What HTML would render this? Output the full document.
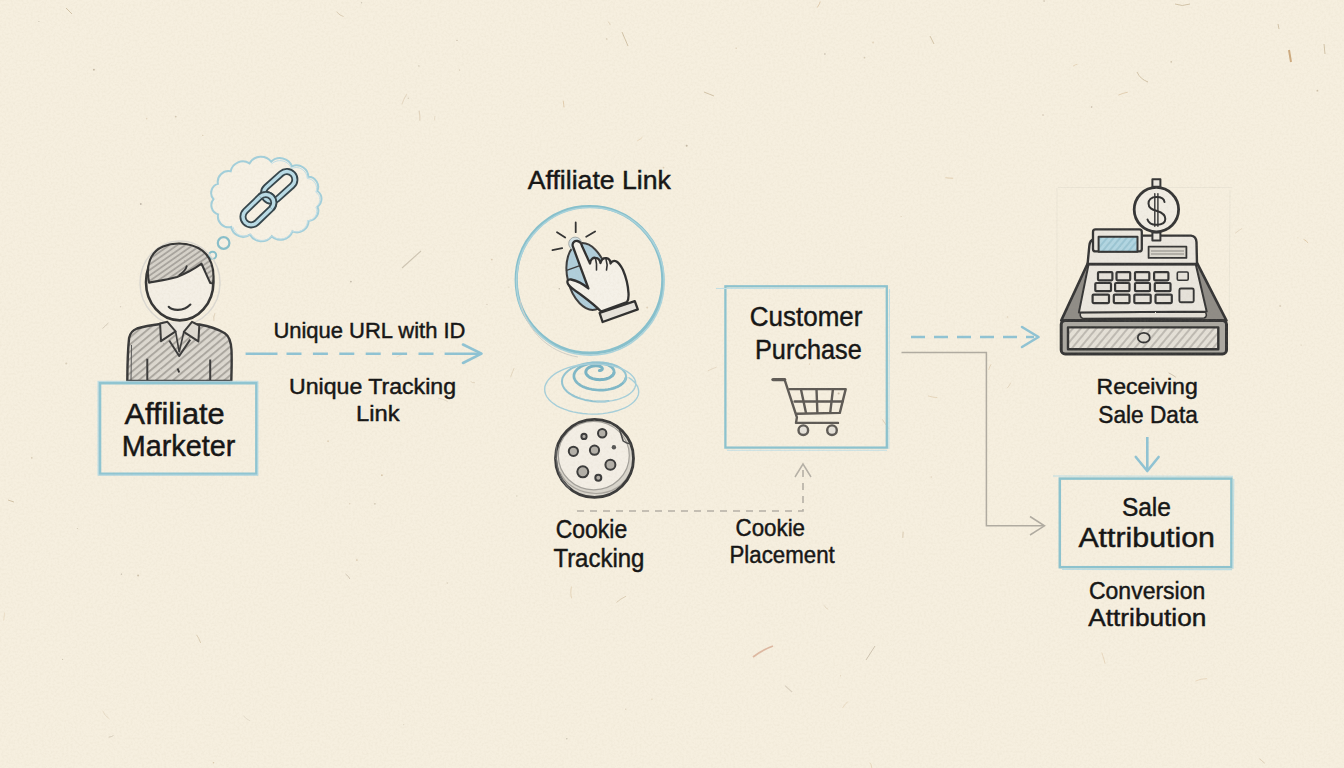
<!DOCTYPE html>
<html><head><meta charset="utf-8">
<style>
html,body{margin:0;padding:0;background:#f6efdf;}
#c{position:relative;width:1344px;height:768px;overflow:hidden;background:#f6efdf;}
svg{position:absolute;left:0;top:0;}
text{font-family:"Liberation Sans",sans-serif;fill:#141414;stroke:#141414;stroke-width:0.45px;}
</style></head>
<body><div id="c">
<svg width="1344" height="768" viewBox="0 0 1344 768">
<defs>
<pattern id="hatch" width="5.5" height="5.5" patternUnits="userSpaceOnUse" patternTransform="rotate(50)">
<rect width="5.5" height="5.5" fill="#dcd8d0"/>
<line x1="1" y1="0" x2="1" y2="5.5" stroke="#a9a59e" stroke-width="1.9"/>
</pattern>
<pattern id="hatchH" width="4.5" height="4.5" patternUnits="userSpaceOnUse" patternTransform="rotate(55)">
<rect width="4.5" height="4.5" fill="#d6d2ca"/>
<line x1="1" y1="0" x2="1" y2="4.5" stroke="#a4a09a" stroke-width="1.7"/>
</pattern>
<pattern id="hatch2" width="6" height="6" patternUnits="userSpaceOnUse" patternTransform="rotate(40)">
<rect width="6" height="6" fill="#e4e0d7"/>
<line x1="1" y1="0" x2="1" y2="6" stroke="#aaa69f" stroke-width="1.3"/>
</pattern>
<pattern id="hatchB" width="5" height="5" patternUnits="userSpaceOnUse" patternTransform="rotate(40)">
<rect width="5" height="5" fill="#b2d6e2"/>
<line x1="1" y1="0" x2="1" y2="5" stroke="#8fbccc" stroke-width="1.3"/>
</pattern>
<filter id="paper" x="0" y="0" width="100%" height="100%">
<feTurbulence type="fractalNoise" baseFrequency="0.45" numOctaves="3" seed="5" result="n"/>
<feColorMatrix in="n" type="matrix" values="0 0 0 0 0.45  0 0 0 0 0.38  0 0 0 0 0.25  0.16 0 0 0 -0.06"/>
</filter>
<filter id="wob" x="-5%" y="-5%" width="110%" height="110%">
<feTurbulence type="fractalNoise" baseFrequency="0.35" numOctaves="2" seed="11" result="t"/>
<feDisplacementMap in="SourceGraphic" in2="t" scale="1.3" xChannelSelector="R" yChannelSelector="G"/>
</filter>
</defs>

<!-- background specks -->
<g stroke="#c9b89a" stroke-width="1" fill="none" opacity="0.8">
<path d="M402,268 L421,251" stroke="#c4baa8" stroke-width="1.1"/><path d="M622,32 L628,46"/><path d="M1289,50 L1291,62" stroke="#c49a68" stroke-width="2"/>
<path d="M1175,4 Q1182,7 1190,4"/><path d="M1137,72 Q1140,79 1148,82"/><path d="M66,8 L72,14"/><path d="M8,500 L14,502"/>
<path d="M1278,24 L1279,29"/><path d="M753,657 Q762,650 773,646" stroke="#d8ab92" stroke-width="1.8"/><path d="M866,660 L875,646" stroke="#c4b8a5"/><path d="M1324,44 L1325,54"/><path d="M704,92 L714,96"/><path d="M930,36 L934,44"/>
</g>
<g>
<path d="M435.2,115.9 Q434.4,116.4 434.7,120.4" stroke="#cdb89a" stroke-width="0.7" fill="none" opacity="0.48"/>
<circle cx="93.9" cy="69.7" r="0.9" fill="#a89a84" opacity="0.68"/>
<circle cx="847.6" cy="447.7" r="0.8" fill="#a89a84" opacity="0.69"/>
<circle cx="62.6" cy="659.3" r="0.6" fill="#a89a84" opacity="0.55"/>
<circle cx="753.0" cy="523.8" r="0.8" fill="#b9a98f" opacity="0.48"/>
<circle cx="736.2" cy="48.2" r="0.6" fill="#c4ad8a" opacity="0.62"/>
<circle cx="625.8" cy="709.2" r="0.6" fill="#b9a98f" opacity="0.59"/>
<circle cx="328.1" cy="441.2" r="0.9" fill="#c4ad8a" opacity="0.45"/>
<circle cx="1317.4" cy="90.7" r="0.9" fill="#b9a98f" opacity="0.68"/>
<circle cx="566.8" cy="738.8" r="0.8" fill="#9c9282" opacity="0.47"/>
<path d="M470.6,381.4 Q471.9,382.9 475.0,382.8" stroke="#c7b394" stroke-width="0.7" fill="none" opacity="0.56"/>
<path d="M869.7,762.7 Q871.5,763.7 871.9,768.6" stroke="#d2b48c" stroke-width="0.8" fill="none" opacity="0.53"/>
<circle cx="663.5" cy="167.6" r="0.9" fill="#c4ad8a" opacity="0.49"/>
<circle cx="1171.2" cy="61.9" r="0.8" fill="#b9a98f" opacity="0.64"/>
<circle cx="1161.2" cy="213.8" r="0.7" fill="#c4ad8a" opacity="0.69"/>
<circle cx="202.8" cy="135.3" r="0.6" fill="#c4ad8a" opacity="0.64"/>
<circle cx="245.1" cy="216.5" r="0.8" fill="#9c9282" opacity="0.68"/>
<path d="M928.0,395.9 Q934.3,397.8 937.3,397.5" stroke="#d2b48c" stroke-width="0.9" fill="none" opacity="0.47"/>
<circle cx="647.2" cy="307.5" r="1.0" fill="#c4ad8a" opacity="0.41"/>
<circle cx="457.0" cy="40.4" r="0.6" fill="#a89a84" opacity="0.68"/>
<circle cx="824.9" cy="54.0" r="0.7" fill="#9c9282" opacity="0.68"/>
<circle cx="809.5" cy="364.1" r="0.7" fill="#c4ad8a" opacity="0.52"/>
<path d="M419.1,110.7 Q420.2,115.7 419.8,120.6" stroke="#cdb89a" stroke-width="1.1" fill="none" opacity="0.51"/>
<circle cx="197.0" cy="417.2" r="0.8" fill="#a89a84" opacity="0.59"/>
<circle cx="350.9" cy="281.6" r="0.9" fill="#9c9282" opacity="0.57"/>
<path d="M824.2,605.5 Q825.8,608.6 828.2,609.3" stroke="#cdb89a" stroke-width="0.9" fill="none" opacity="0.46"/>
<circle cx="38.9" cy="21.5" r="0.6" fill="#9c9282" opacity="0.51"/>
<path d="M1259.4,758.8 Q1260.9,759.8 1264.7,763.2" stroke="#cdb89a" stroke-width="0.9" fill="none" opacity="0.65"/>
<path d="M820.2,1.5 Q820.1,3.0 817.3,7.5" stroke="#d2b48c" stroke-width="1.0" fill="none" opacity="0.58"/>
<path d="M642.5,137.1 Q641.7,138.6 637.1,141.0" stroke="#d2b48c" stroke-width="1.0" fill="none" opacity="0.38"/>
<circle cx="213.5" cy="762.7" r="0.8" fill="#c4ad8a" opacity="0.63"/>
<path d="M196.5,634.8 Q198.7,637.4 200.7,643.0" stroke="#c7b394" stroke-width="1.0" fill="none" opacity="0.57"/>
<circle cx="138.1" cy="575.6" r="1.0" fill="#b9a98f" opacity="0.64"/>
<circle cx="283.6" cy="193.4" r="0.6" fill="#9c9282" opacity="0.44"/>
<path d="M563.2,100.7 Q563.9,105.7 564.0,107.4" stroke="#d2b48c" stroke-width="1.0" fill="none" opacity="0.61"/>
<circle cx="175.7" cy="116.6" r="0.9" fill="#b9a98f" opacity="0.56"/>
<circle cx="1043.0" cy="115.0" r="0.8" fill="#a89a84" opacity="0.54"/>
<path d="M438.1,398.1 Q443.2,398.8 447.8,401.5" stroke="#b8ab98" stroke-width="0.7" fill="none" opacity="0.38"/>
<path d="M607.7,21.4 Q610.8,23.7 610.1,25.2" stroke="#cdb89a" stroke-width="1.0" fill="none" opacity="0.49"/>
<path d="M716.7,367.1 Q714.1,368.0 707.9,370.8" stroke="#cdb89a" stroke-width="1.0" fill="none" opacity="0.39"/>
<circle cx="163.5" cy="339.5" r="0.6" fill="#a89a84" opacity="0.42"/>
<path d="M406.9,94.0 Q403.9,98.2 401.9,104.3" stroke="#cdb89a" stroke-width="1.1" fill="none" opacity="0.42"/>
<circle cx="1280.2" cy="305.9" r="1.0" fill="#b9a98f" opacity="0.41"/>
<circle cx="580.0" cy="396.0" r="0.6" fill="#9c9282" opacity="0.38"/>
<circle cx="491.8" cy="259.6" r="0.9" fill="#c4ad8a" opacity="0.47"/>
<circle cx="838.6" cy="393.4" r="1.0" fill="#b9a98f" opacity="0.69"/>
<circle cx="140.8" cy="204.0" r="0.9" fill="#9c9282" opacity="0.61"/>
<path d="M1101.8,652.5 Q1103.6,658.1 1105.1,663.6" stroke="#d2b48c" stroke-width="1.0" fill="none" opacity="0.38"/>
<circle cx="77.3" cy="528.5" r="0.5" fill="#a89a84" opacity="0.57"/>
<path d="M1077.4,64.3 Q1075.1,64.6 1073.3,66.2" stroke="#d2b48c" stroke-width="1.1" fill="none" opacity="0.43"/>
<circle cx="173.7" cy="404.7" r="0.6" fill="#b9a98f" opacity="0.44"/>
<path d="M243.5,716.0 Q246.5,719.1 250.0,720.9" stroke="#b8ab98" stroke-width="0.8" fill="none" opacity="0.36"/>
<path d="M336.6,11.8 Q340.0,15.9 343.6,16.5" stroke="#c7b394" stroke-width="1.0" fill="none" opacity="0.55"/>
<path d="M882.3,419.3 Q884.5,423.0 889.0,428.9" stroke="#cdb89a" stroke-width="1.0" fill="none" opacity="0.56"/>
<circle cx="854.8" cy="310.8" r="0.5" fill="#b9a98f" opacity="0.35"/>
<circle cx="840.6" cy="675.7" r="0.5" fill="#c4ad8a" opacity="0.65"/>
<circle cx="901.2" cy="216.5" r="0.6" fill="#c4ad8a" opacity="0.41"/>
<circle cx="361.6" cy="2.8" r="0.7" fill="#9c9282" opacity="0.44"/>
<circle cx="1297.9" cy="237.7" r="0.5" fill="#c4ad8a" opacity="0.38"/>
<circle cx="374.9" cy="503.8" r="0.9" fill="#a89a84" opacity="0.44"/>
<circle cx="120.6" cy="306.8" r="0.5" fill="#9c9282" opacity="0.57"/>
<path d="M113.5,735.5 Q112.2,736.7 108.6,737.2" stroke="#b8ab98" stroke-width="1.0" fill="none" opacity="0.50"/>
<circle cx="381.9" cy="475.2" r="0.9" fill="#c4ad8a" opacity="0.61"/>
<circle cx="1091.6" cy="107.0" r="0.8" fill="#a89a84" opacity="0.64"/>
<path d="M785.0,685.7 Q786.7,687.4 792.1,692.0" stroke="#b8ab98" stroke-width="1.1" fill="none" opacity="0.46"/>
<circle cx="606.7" cy="39.0" r="0.8" fill="#b9a98f" opacity="0.52"/>
<path d="M4.5,612.6 Q4.6,614.9 3.6,620.6" stroke="#d2b48c" stroke-width="0.8" fill="none" opacity="0.37"/>
<circle cx="356.9" cy="560.1" r="0.9" fill="#c4ad8a" opacity="0.52"/>
<path d="M514.2,367.9 Q512.9,370.9 510.5,377.3" stroke="#cdb89a" stroke-width="0.8" fill="none" opacity="0.55"/>
<circle cx="931.2" cy="477.0" r="0.7" fill="#c4ad8a" opacity="0.44"/>
<path d="M903.2,531.6 Q902.9,534.6 902.8,537.9" stroke="#c7b394" stroke-width="1.1" fill="none" opacity="0.51"/>
<circle cx="418.9" cy="65.9" r="0.6" fill="#a89a84" opacity="0.64"/>
<circle cx="1301.1" cy="345.2" r="0.6" fill="#b9a98f" opacity="0.38"/>
<circle cx="121.4" cy="574.1" r="0.7" fill="#9c9282" opacity="0.66"/>
<path d="M945.3,177.7 Q947.2,178.0 953.2,178.3" stroke="#d2b48c" stroke-width="0.9" fill="none" opacity="0.57"/>
<circle cx="559.3" cy="288.8" r="0.7" fill="#9c9282" opacity="0.61"/>
<path d="M1127.8,92.2 Q1122.3,93.2 1118.5,95.1" stroke="#d2b48c" stroke-width="0.9" fill="none" opacity="0.61"/>
<path d="M102.7,710.7 Q104.3,715.5 109.6,719.1" stroke="#cdb89a" stroke-width="0.8" fill="none" opacity="0.43"/>
<circle cx="686.7" cy="145.8" r="1.0" fill="#a89a84" opacity="0.63"/>
<path d="M847.9,701.5 Q843.5,705.7 842.6,708.0" stroke="#d2b48c" stroke-width="0.9" fill="none" opacity="0.39"/>
<path d="M1168.6,372.9 Q1171.8,374.2 1175.8,377.2" stroke="#b8ab98" stroke-width="1.0" fill="none" opacity="0.64"/>
<circle cx="349.7" cy="503.8" r="0.8" fill="#c4ad8a" opacity="0.39"/>
<circle cx="864.5" cy="57.7" r="0.9" fill="#b9a98f" opacity="0.51"/>
<circle cx="447.3" cy="583.1" r="0.8" fill="#b9a98f" opacity="0.38"/>
<circle cx="459.6" cy="70.0" r="0.6" fill="#b9a98f" opacity="0.66"/>
<circle cx="1007.5" cy="317.0" r="0.8" fill="#c4ad8a" opacity="0.44"/>
<path d="M1010.8,382.6 Q1009.0,386.6 1007.0,388.3" stroke="#cdb89a" stroke-width="0.7" fill="none" opacity="0.62"/>
<circle cx="516.8" cy="496.0" r="0.7" fill="#a89a84" opacity="0.39"/>
<path d="M571.5,586.5 Q569.9,594.1 571.8,598.3" stroke="#d2b48c" stroke-width="1.1" fill="none" opacity="0.42"/>
<circle cx="146.6" cy="118.6" r="0.8" fill="#c4ad8a" opacity="0.38"/>
<circle cx="1044.1" cy="1.0" r="0.8" fill="#a89a84" opacity="0.58"/>
<circle cx="408.3" cy="98.3" r="0.8" fill="#a89a84" opacity="0.38"/>
<circle cx="403.7" cy="724.6" r="0.6" fill="#a89a84" opacity="0.35"/>
<path d="M405.2,353.8 Q400.9,354.4 396.7,357.1" stroke="#cdb89a" stroke-width="0.7" fill="none" opacity="0.47"/>
<circle cx="873.1" cy="42.5" r="0.9" fill="#c4ad8a" opacity="0.38"/>
<circle cx="306.2" cy="325.9" r="0.7" fill="#9c9282" opacity="0.60"/>
<circle cx="487.0" cy="304.4" r="0.6" fill="#a89a84" opacity="0.42"/>
<path d="M1303.5,239.4 Q1306.8,240.5 1308.0,243.1" stroke="#d2b48c" stroke-width="0.9" fill="none" opacity="0.62"/>
<circle cx="651.9" cy="699.2" r="0.8" fill="#c4ad8a" opacity="0.37"/>
<circle cx="31.8" cy="457.8" r="0.9" fill="#b9a98f" opacity="0.49"/>
<path d="M1207.1,678.6 Q1200.6,678.6 1195.4,681.1" stroke="#d2b48c" stroke-width="0.7" fill="none" opacity="0.55"/>
<circle cx="508.9" cy="287.1" r="0.6" fill="#a89a84" opacity="0.38"/>
<path d="M108.5,322.7 Q105.0,326.7 102.4,328.5" stroke="#b8ab98" stroke-width="1.0" fill="none" opacity="0.48"/>
<circle cx="66.2" cy="363.6" r="1.0" fill="#b9a98f" opacity="0.46"/>
<path d="M991.0,364.4 Q989.4,366.7 988.7,370.0" stroke="#d2b48c" stroke-width="0.7" fill="none" opacity="0.63"/>
<path d="M345.4,573.9 Q349.5,576.9 349.8,579.0" stroke="#b8ab98" stroke-width="1.0" fill="none" opacity="0.56"/>
<path d="M1242.2,228.4 Q1240.4,229.2 1235.0,233.4" stroke="#cdb89a" stroke-width="0.7" fill="none" opacity="0.56"/>
<path d="M626.0,596.2 Q619.8,599.3 616.5,602.5" stroke="#c7b394" stroke-width="1.0" fill="none" opacity="0.57"/>
<path d="M1105.8,593.5 Q1107.0,597.4 1109.3,599.1" stroke="#c7b394" stroke-width="0.9" fill="none" opacity="0.47"/>
<path d="M215.0,313.2 Q213.1,316.8 213.9,320.9" stroke="#c7b394" stroke-width="1.1" fill="none" opacity="0.43"/>
</g>

<!-- ========== Affiliate marketer ========== -->
<!-- thought cloud -->
<g fill="#f7f1e4" stroke="#a2cfdb" stroke-width="2">
<path d="M271.2,161.7 A12.8,12.8 0 0 1 292.0,166.4 A11.6,11.6 0 0 1 308.3,176.8 A10.1,10.1 0 0 1 317.3,191.0 A9.4,9.4 0 0 1 317.4,206.6 A10.1,10.1 0 0 1 308.6,220.9 A11.6,11.6 0 0 1 292.5,231.4 A12.8,12.8 0 0 1 271.7,236.3 A13.1,13.1 0 0 1 250.0,234.7 A12.3,12.3 0 0 1 231.1,227.0 A10.8,10.8 0 0 1 218.1,214.4 A9.6,9.6 0 0 1 213.5,199.2 A9.5,9.5 0 0 1 217.9,183.9 A10.8,10.8 0 0 1 230.7,171.3 A12.3,12.3 0 0 1 249.5,163.4 A13.1,13.1 0 0 1 271.2,161.7 Z"/>
<circle cx="223.6" cy="243" r="5.8" stroke="#88bfca" stroke-width="2.2"/>
<circle cx="212.6" cy="255.3" r="3.6" stroke="#88bfca" stroke-width="2"/>
</g>
<path d="M271.5,164.0 A12.3,12.3 0 0 1 291.5,168.5 A11.1,11.1 0 0 1 307.2,178.5 A9.7,9.7 0 0 1 315.8,192.1 A9.0,9.0 0 0 1 315.9,207.1 A9.7,9.7 0 0 1 307.5,220.8 A11.1,11.1 0 0 1 292.0,230.9 A12.3,12.3 0 0 1 272.0,235.6 A12.6,12.6 0 0 1 251.1,234.1 A11.8,11.8 0 0 1 232.9,226.7" fill="none" stroke="#c4e0e8" stroke-width="1"/>
<!-- chain -->
<g fill="none">
<g transform="translate(258.4,209.7) rotate(-44)">
<rect x="-18.3" y="-8.1" width="36.6" height="16.2" rx="8.1" stroke="#35454b" stroke-width="7"/>
<rect x="-18.3" y="-8.1" width="36.6" height="16.2" rx="8.1" stroke="#b9dce7" stroke-width="3.4"/>
</g>
<g transform="translate(279.2,186.4) rotate(-42)">
<rect x="-18.3" y="-8.1" width="36.6" height="16.2" rx="8.1" stroke="#35454b" stroke-width="7"/>
<rect x="-18.3" y="-8.1" width="36.6" height="16.2" rx="8.1" stroke="#b9dce7" stroke-width="3.4"/>
</g>
<!-- re-draw part of lower link over upper link -->
<g transform="translate(258.4,209.7) rotate(-44)">
<path d="M10.2,-8.1 A8.1,8.1 0 0 1 18.3,0 A8.1,8.1 0 0 1 10.2,8.1" stroke="#35454b" stroke-width="7"/>
<path d="M10.2,-8.1 A8.1,8.1 0 0 1 18.3,0 A8.1,8.1 0 0 1 10.2,8.1" stroke="#b9dce7" stroke-width="3.4"/>
</g>
</g>

<!-- person -->
<g filter="url(#wob)">
<ellipse cx="180" cy="283" rx="40" ry="42" fill="none" stroke="#dcd9d2" stroke-width="1.5"/>
<!-- body -->
<path d="M127.3,381 C127.4,365 127.5,352 129.1,338 C130,333 133,330 137,328.5 C145,326 152,325 160.5,324 L199.5,324.5 C208,326 216,328 224.8,333.2 C229,336 231,341 231.5,350 C232,362 231.5,372 231.3,381 Z" fill="url(#hatch)" stroke="#383838" stroke-width="2.4" stroke-linejoin="round"/>
<path d="M131.5,345 L131,380" stroke="#555" stroke-width="1" fill="none"/>
<path d="M147.3,358.7 L147.3,380 M210.2,359.6 L210.2,380" stroke="#3a3a3a" stroke-width="2" fill="none"/>
<!-- neck + shirt V -->
<path d="M167,322 L192,322 L183.8,332 L179.2,338 L175.6,331.4 Z" fill="#ece8e0" stroke="none"/>
<path d="M169.2,340.5 L179.2,356 L190.2,339.6" fill="none" stroke="#3a3a3a" stroke-width="2" stroke-linejoin="round"/>
<path d="M175.6,331.4 L179.2,352 L183.8,332" fill="none" stroke="#3a3a3a" stroke-width="1.6"/>
<!-- collar flaps -->
<path d="M160.1,323.5 L167.4,321.8 L175.6,331.4 L161,341.2 Z" fill="#dedad2" stroke="#383838" stroke-width="2" stroke-linejoin="round"/>
<path d="M199.3,325.5 L192,321.8 L183.8,331.9 L198.4,341.4 Z" fill="#dedad2" stroke="#383838" stroke-width="2" stroke-linejoin="round"/>
<path d="M177.6,368.5 L179.2,372.5" stroke="#333" stroke-width="2" fill="none"/>
<!-- head -->
<ellipse cx="179.7" cy="282.2" rx="33.7" ry="38.2" fill="#f4efe5" stroke="#363636" stroke-width="2.6"/>
<path d="M149.1,282.6 C145.5,266 150,252 163,246.5 C176,241 196,243 206,254 C212,261 214.5,272 213,283.5 L210.3,283 C207,276 204,269 201.5,263.7 C195,268.5 186,273.5 177,277 C168,279.5 158,281 149.1,282.6 Z" fill="url(#hatchH)" stroke="#363636" stroke-width="2.1" stroke-linejoin="round"/>
<path d="M179.4,275 C183,272.5 186,269.5 186.7,266.1" fill="none" stroke="#363636" stroke-width="1.9" stroke-linecap="round"/>
<path d="M168.7,306.8 C172,310.5 183,312 190.4,304.5" fill="none" stroke="#363636" stroke-width="2.1" stroke-linecap="round"/>
</g>

<!-- Affiliate Marketer box -->
<rect x="99.8" y="383" width="156.8" height="91" fill="none" stroke="#8fc5d2" stroke-width="3"/>
<rect x="98" y="381.3" width="159.8" height="93.8" fill="none" stroke="#bcdde5" stroke-width="1"/>
<text x="124.4" y="424" font-size="29" textLength="100.3" lengthAdjust="spacingAndGlyphs">Affiliate</text>
<text x="121.8" y="455.7" font-size="29" textLength="113.5" lengthAdjust="spacingAndGlyphs">Marketer</text>

<!-- arrow 1 -->
<path d="M245.6,353.7 L277.5,353.7" stroke="#8fc3d4" stroke-width="2.6" fill="none"/>
<path d="M286.5,353.7 L444,353.7" stroke="#8fc3d4" stroke-width="2.6" stroke-dasharray="15 11.4" fill="none"/>
<path d="M444.6,353.7 L480,353.7" stroke="#8fc3d4" stroke-width="2.6" fill="none"/>
<path d="M463,344.5 L481.5,353.7 L463,363" stroke="#8fc3d4" stroke-width="2.6" fill="none" stroke-linecap="round" stroke-linejoin="round"/>
<text x="273.4" y="337.6" font-size="22" textLength="192.1" lengthAdjust="spacingAndGlyphs">Unique URL with ID</text>
<text x="289" y="393.5" font-size="22" textLength="167" lengthAdjust="spacingAndGlyphs">Unique Tracking</text>
<text x="356" y="421.4" font-size="22" textLength="43.5" lengthAdjust="spacingAndGlyphs">Link</text>

<!-- ========== Affiliate Link ========== -->
<text x="527.8" y="189.2" font-size="25.5" textLength="143" lengthAdjust="spacingAndGlyphs">Affiliate Link</text>
<circle cx="589.5" cy="279.8" r="73.3" fill="none" stroke="#86c0cd" stroke-width="3.2"/>
<circle cx="590.3" cy="281.3" r="73.8" fill="none" stroke="#a9d3dc" stroke-width="1.6"/>
<path d="M520,300 C526,330 548,352 578,357" fill="none" stroke="#d2d0c8" stroke-width="1"/>
<!-- mouse -->
<g transform="translate(587.5,276.5) rotate(-14)">
<ellipse cx="0" cy="0" rx="20" ry="34" fill="#b0cedb" stroke="#3c3c3c" stroke-width="2"/>
<path d="M-19.5,-11 L-4,-12.5" stroke="#3c3c3c" stroke-width="1.4" fill="none"/>
</g>
<!-- hand -->
<circle cx="575.2" cy="243.6" r="6.5" fill="#d3e2e6" stroke="#a4aaa8" stroke-width="1"/>
<path d="M572.7,246 C572,242 575,240.5 577.5,241 C580,241.5 581.5,243.5 582,246 L590,263.5 C590.5,259 593,257.5 595.5,257.8 C598,258 600,260 600.5,263 C601.5,259 604,257.8 606.5,258.2 C609,258.8 610.5,261 610.5,263.5 C612,261 614.5,260.5 616.5,261.5 C619,263 621,266 623,270 C626,277 628,285 628.5,293 C628.8,298 628.5,300 627,302 L601,311.5 C596,306 588,300 580,294 C574,290 569.5,287 568,284 C566.5,281 568,279 571,279.5 C576,280.5 582,283 588.4,288.5 Z" fill="#f5f1e8" stroke="#2f2f2f" stroke-width="2.3" stroke-linejoin="round"/>
<path d="M595.5,258.5 C596.5,262 597,265 596.5,270 M606,259 C607,262 607.5,266 606.5,270" fill="none" stroke="#2f2f2f" stroke-width="1.6" stroke-linecap="round"/>
<path d="M599.6,313 L634.8,301.1 L637.8,309.3 L602.6,322 Z" fill="#e7e3db" stroke="#2f2f2f" stroke-width="2.3" stroke-linejoin="round"/>
<path d="M575.7,222.5 L575.7,232.2 M557,232.2 L565.2,237.5 M586.2,236.7 L595.1,231.5 M552.5,250.2 L562.2,248.2" stroke="#333" stroke-width="1.8" fill="none" stroke-linecap="round"/>

<!-- spiral -->
<g fill="none" stroke-linecap="round" stroke-linejoin="round">
<path d="M599.4,370.6 L599.8,370.6 L600.2,370.5 L600.6,370.4 L600.9,370.3 L601.3,370.1 L601.6,369.9 L601.8,369.7 L602.1,369.5 L602.2,369.2 L602.3,368.9 L602.3,368.6 L602.3,368.3 L602.1,368.0 L601.9,367.7 L601.6,367.4 L601.3,367.1 L600.8,366.8 L600.3,366.5 L599.7,366.3 L599.0,366.1 L598.2,365.9 L597.4,365.8 L596.6,365.7 L595.7,365.7 L594.8,365.8 L593.9,365.9 L592.9,366.0 L592.0,366.2 L591.1,366.5 L590.2,366.9 L589.4,367.3 L588.6,367.7 L587.9,368.2 L587.3,368.8 L586.8,369.4 L586.4,370.0 L586.1,370.7 L585.9,371.4 L585.8,372.1 L585.9,372.9 L586.1,373.6 L586.5,374.3 L587.0,375.0 L587.6,375.7 L588.4,376.4 L589.2,377.0 L590.2,377.6 L591.4,378.1 L592.6,378.6 L593.9,378.9 L595.3,379.2 L596.7,379.5 L598.2,379.6 L599.8,379.7 L601.3,379.6 L602.8,379.5 L604.3,379.3 L605.8,379.0 L607.2,378.5 L608.5,378.1 L609.7,377.5 L610.8,376.8 L611.8,376.1 L612.6,375.4 L613.2,374.5 L613.7,373.7 L614.0,372.8" stroke="#78b3c4" stroke-width="3.0"/>
<path d="M612.6,375.3 L613.2,374.5 L613.7,373.6 L614.0,372.8 L614.1,371.8 L614.0,370.9 L613.7,370.0 L613.3,369.1 L612.6,368.2 L611.7,367.3 L610.7,366.5 L609.4,365.8 L608.1,365.1 L606.5,364.5 L604.8,364.0 L603.0,363.6 L601.1,363.3 L599.1,363.1 L597.0,363.0 L594.9,363.0 L592.8,363.2 L590.6,363.4 L588.5,363.8 L586.5,364.4 L584.5,365.0 L582.7,365.8 L580.9,366.6 L579.4,367.6 L577.9,368.6 L576.7,369.8 L575.7,371.0 L574.9,372.3 L574.3,373.6 L574.0,374.9 L573.9,376.3 L574.1,377.7 L574.6,379.1 L575.3,380.4 L576.2,381.8 L577.4,383.0 L578.9,384.2 L580.5,385.4 L582.4,386.4 L584.5,387.3 L586.8,388.1 L589.2,388.8 L591.7,389.3 L594.3,389.7 L597.0,390.0 L599.7,390.1 L602.5,390.1 L605.2,389.9 L607.9,389.5 L610.5,389.0 L613.0,388.4 L615.3,387.6 L617.5,386.7 L619.5,385.6 L621.2,384.5 L622.8,383.2 L624.0,381.9 L625.0,380.5 L625.6,379.0 L626.0,377.6" stroke="#7fb8c8" stroke-width="2.7"/>
<path d="M624.0,381.9 L625.0,380.5 L625.7,379.0 L626.0,377.5 L626.0,375.9 L625.7,374.4 L625.1,372.9 L624.1,371.4 L622.8,370.0 L621.1,368.6 L619.2,367.3 L617.0,366.2 L614.5,365.2 L611.8,364.3 L608.9,363.6 L605.8,363.0 L602.5,362.6 L599.2,362.4 L595.8,362.4 L592.4,362.6 L588.9,362.9 L585.5,363.5 L582.3,364.2 L579.1,365.2 L576.1,366.3 L573.3,367.5 L570.8,368.9 L568.5,370.5 L566.5,372.2 L564.9,374.0 L563.6,375.9 L562.6,377.8 L562.1,379.8 L562.0,381.9 L562.2,383.9 L562.9,385.9 L563.9,387.9 L565.4,389.8 L567.2,391.7 L569.4,393.4 L572.0,395.0 L574.8,396.5 L578.0,397.8 L581.4,398.9 L585.0,399.9 L588.8,400.6 L592.7,401.2 L596.8,401.5 L600.7,401.6 L604.6,401.5 L608.5,401.1" stroke="#92c4d2" stroke-width="2.0"/>
<path d="M597.0,401.5 L600.9,401.6 L604.8,401.5 L608.7,401.1 L612.4,400.6 L616.0,399.8 L619.4,398.8 L622.6,397.7 L625.5,396.4 L628.2,394.9 L630.4,393.2 L632.3,391.5 L633.8,389.6 L634.9,387.6 L635.6,385.6 L635.8,383.6 L635.5,381.5 L634.8,379.4 L633.6,377.4 L631.9,375.5 L629.9,373.6 L627.4,371.8 L624.5,370.2 L621.2,368.7 L617.6,367.4 L613.7,366.3 L609.6,365.4 L605.2,364.7 L600.6,364.2 L596.0,364.0 L591.2,364.0 L586.5,364.3 L581.8,364.8 L577.1,365.5 L572.6,366.5 L568.3,367.7 L564.2,369.2 L560.4,370.8 L556.9,372.7 L553.8,374.7 L551.1,376.9 L548.9,379.2 L547.1,381.6 L545.8,384.1 L544.9,386.6 L544.7,389.2 L544.9,391.8 L545.6,394.3 L546.9,396.8 L548.7,399.2 L550.9,401.5 L553.7,403.7 L556.8,405.8 L560.4,407.6 L564.3,409.2 L568.5,410.7 L573.0,411.9 L577.8,412.8 L582.7,413.5 L587.7,413.9 L592.8,414.1 L597.8,414.0 L602.8,413.6 L607.7,412.9 L612.4,412.0 L616.9,410.8 L621.0,409.4 L624.9,407.8 L628.3,406.0 L631.3,404.0 L633.9,401.8 L635.9,399.5 L637.4,397.1 L638.4,394.7 L638.7,392.1 L638.5,389.6 L637.8,387.1 L636.4,384.6 L634.5,382.2 L632.0,379.9 L629.0,377.7" stroke="#a6cfda" stroke-width="1.4"/>
</g>
<!-- cookie -->
<g filter="url(#wob)">
<circle cx="594.5" cy="458.4" r="39" fill="#d9d5cc"/>
<ellipse cx="593.8" cy="455.6" rx="35.5" ry="34.2" fill="#f3eee5" stroke="#a3a09a" stroke-width="1.2"/>
<path d="M560,472 C566,486 580,493 596,493.5 C612,493.5 625,485 630,472" fill="none" stroke="#a9a59e" stroke-width="1.2"/>
<circle cx="594.5" cy="458.4" r="39" fill="none" stroke="#3a3a3a" stroke-width="2.8"/>
<path d="M556.5,446 C555,462 558,478 570,489" fill="none" stroke="#666" stroke-width="1.3"/>
<path d="M619.5,430 C621.5,434 622,438 623.2,441 C625,442.5 628,443.5 631,444" fill="none" stroke="#4a4a4a" stroke-width="1.6" stroke-linejoin="round"/>
<g fill="#b3afa8" stroke="#3a3a3a" stroke-width="2">
<circle cx="602.2" cy="433.2" r="4.2"/>
<circle cx="584" cy="436.4" r="2.6"/>
<circle cx="573.4" cy="451.3" r="4.6"/>
<circle cx="594.5" cy="450.2" r="4.6"/>
<circle cx="610.4" cy="464.8" r="5"/>
<circle cx="582.8" cy="471.8" r="5.5"/>
<circle cx="598.3" cy="477.7" r="3"/>
</g>
<circle cx="613.9" cy="447.2" r="2.2" fill="#555"/></g>
<!-- cookie dashed line -->
<path d="M577,511 L803,511 L803,466" fill="none" stroke="#b5b0a6" stroke-width="1.6" stroke-dasharray="7 6"/>
<path d="M795,477 L803,464 L811,477" fill="none" stroke="#b5b0a6" stroke-width="1.5"/>
<text x="555.7" y="538.1" font-size="25" textLength="71.5" lengthAdjust="spacingAndGlyphs">Cookie</text>
<text x="553.4" y="566.6" font-size="25" textLength="91" lengthAdjust="spacingAndGlyphs">Tracking</text>
<text x="735.6" y="535.5" font-size="24" textLength="69.4" lengthAdjust="spacingAndGlyphs">Cookie</text>
<text x="729.5" y="563.4" font-size="23.5" textLength="105.2" lengthAdjust="spacingAndGlyphs">Placement</text>

<!-- ========== Customer Purchase ========== -->
<rect x="725.4" y="286.3" width="161.4" height="161.3" fill="none" stroke="#8cc3cf" stroke-width="2.3"/>
<path d="M716,288.5 L884,288 M889.5,289 L888.8,449 M727,450.3 L887,450.3" fill="none" stroke="#c2e0e6" stroke-width="1.1"/>
<text x="749.8" y="326.2" font-size="27" textLength="112.6" lengthAdjust="spacingAndGlyphs">Customer</text>
<text x="755" y="358.9" font-size="27" textLength="106.7" lengthAdjust="spacingAndGlyphs">Purchase</text>
<!-- cart -->
<g fill="none" stroke="#5e5a55" stroke-width="2.4" stroke-linejoin="round" stroke-linecap="round">
<path d="M773,379.6 L784.6,379.6" stroke-width="3.4"/>
<path d="M784.6,379.6 L796.9,417.4 L796,422.9 L838,422.9"/>
<path d="M789.6,389.1 L845.7,389.1 L839.8,412.9 L796.9,413.8"/>
<path d="M794.6,401.5 L842.5,401.5 M801,389.6 L806,412.9 M816.5,389.1 L817.4,412.9 M832.9,389.6 L830.2,412.9"/>
<circle cx="803.3" cy="430.2" r="4.8" fill="#e6e2da"/>
<circle cx="832" cy="430.2" r="4.8" fill="#e6e2da"/>
</g>

<!-- arrows to right -->
<path d="M911,337 L1034,337" stroke="#8fc3d4" stroke-width="2.6" stroke-dasharray="14 9" fill="none"/>
<path d="M1022,327 L1038.5,337 L1022,347" stroke="#8fc3d4" stroke-width="2.6" fill="none" stroke-linecap="round" stroke-linejoin="round"/>
<path d="M901.5,352.6 L986.4,352.6 L986.4,525.8 L1043,525.8" fill="none" stroke="#b0aba1" stroke-width="1.5"/>
<path d="M1030,516.5 L1044.5,525.8 L1030,535" fill="none" stroke="#b0aba1" stroke-width="1.5"/>

<!-- ========== cash register ========== -->
<g filter="url(#wob)">
<path d="M1058,187.5 L1232,187.5 M1057,188 L1057,352 M1230,190 L1229,352" stroke="#e9e3d4" stroke-width="0.8" fill="none"/>
<g stroke="#363636" stroke-linejoin="round">
<!-- housing -->
<path d="M1087.8,263.2 L1061.2,320.6 L1226.5,320.6 L1197.1,263.2 Z" fill="#8f8c86" stroke-width="2.6"/>
<rect x="1061.2" y="320.6" width="165.3" height="33.3" rx="4" fill="#aba8a1" stroke-width="3"/>
<rect x="1068" y="327.4" width="150.3" height="21.9" fill="url(#hatch2)" stroke-width="2.4"/>
<ellipse cx="1143.8" cy="337.7" rx="6" ry="4.8" fill="#ddd9d0" stroke-width="1.8"/>
<!-- keypad -->
<path d="M1081,312.4 L1205,312 C1207,314 1207,317 1204,318 L1083,318.5 C1080,317.5 1079.5,314 1081,312.4 Z" fill="#e3dfd6" stroke-width="1.6"/>
<path d="M1088.5,264.6 L1195.8,264.6 L1206.7,311.5 L1078.9,312.4 Z" fill="#ebe7df" stroke-width="2"/>
<!-- upper -->
<path d="M1087.6,264 L1089.3,246 C1089.6,242 1091,240 1094,239 L1141.8,235.6 L1191,235.6 C1195,236 1196.3,239 1196.5,242 L1197,264 Z" fill="#ebe7df" stroke-width="2.4"/>
<rect x="1093" y="229.4" width="48.8" height="22" rx="2.5" fill="#ebe7df" stroke-width="2.3"/>
<rect x="1098.6" y="236.8" width="38.9" height="15" fill="url(#hatchB)" stroke-width="2"/>
<rect x="1148.6" y="246.7" width="37.8" height="11.2" fill="#dcd8cf" stroke-width="1.8"/>
<path d="M1151,251 L1184,251 M1151,254 L1184,254" stroke="#8a8782" stroke-width="1"/>
<!-- keys -->
<g fill="#e6e2da" stroke-width="2.2">
<rect x="1098" y="272.1" width="14.4" height="8.2" rx="1"/>
<rect x="1116.5" y="272.1" width="13.7" height="8.2" rx="1"/>
<rect x="1135" y="272.1" width="14.3" height="8.2" rx="1"/>
<rect x="1154.1" y="272.1" width="14.3" height="8.2" rx="1"/>
<rect x="1095.3" y="283" width="15.7" height="8.2" rx="1"/>
<rect x="1115.1" y="283" width="14.4" height="8.2" rx="1"/>
<rect x="1135" y="283" width="15" height="8.2" rx="1"/>
<rect x="1154.8" y="283" width="15.7" height="8.2" rx="1"/>
<rect x="1092.6" y="294.6" width="16.4" height="8.5" rx="1"/>
<rect x="1113.8" y="294.6" width="15.7" height="8.5" rx="1"/>
<rect x="1134.3" y="294.6" width="16.4" height="8.5" rx="1"/>
<rect x="1155.5" y="294.6" width="16.3" height="8.5" rx="1"/>
<rect x="1177.3" y="272" width="10.9" height="8.3" rx="1.2" stroke-width="1.6"/>
<rect x="1179.4" y="288.5" width="14.3" height="13.7" rx="1.5" stroke-width="1.9"/>
</g>
<!-- coin -->
<rect x="1152.4" y="179.3" width="8" height="7.5" fill="#ebe7df" stroke-width="2"/>
<rect x="1152.4" y="232.5" width="8" height="8.1" fill="#ebe7df" stroke-width="2"/>
<circle cx="1156.4" cy="209.6" r="22.2" fill="#f1ede4" stroke-width="2.8"/>
</g>
<g fill="none" stroke="#333" stroke-width="2" stroke-linecap="round">
<path d="M1164.5,202 C1164,198 1161,197 1156.5,197 C1151,197 1148.5,200 1148.5,203.5 C1148.5,208 1152,209.5 1157,211 C1162,212.5 1165.3,214.5 1165.3,219 C1165.3,223 1161.5,224.8 1156.5,224.8 C1152,224.8 1148.5,223 1147.5,219.5"/>
<path d="M1154.8,193.6 L1154.8,226.3 M1157.9,193.6 L1157.9,226.3" stroke-width="1.4"/>
</g>
</g>
<!-- Receiving / Sale Attribution -->
<text x="1096.5" y="394" font-size="22" textLength="101.2" lengthAdjust="spacingAndGlyphs">Receiving</text>
<text x="1098.3" y="422.8" font-size="23" textLength="99.5" lengthAdjust="spacingAndGlyphs">Sale Data</text>
<path d="M1147.3,437 L1147.3,470" stroke="#8fc3d4" stroke-width="2.6" fill="none"/>
<path d="M1135.8,457 L1147.3,471 L1158.6,457" stroke="#8fc3d4" stroke-width="2.6" fill="none" stroke-linecap="round" stroke-linejoin="round"/>
<rect x="1059.8" y="478.6" width="171.6" height="88.6" fill="none" stroke="#8cc3cf" stroke-width="2.5"/>
<path d="M1053,476 L1233,476.3 M1233.8,479 L1233,569 M1062,569.4 L1232,569.6" fill="none" stroke="#bcdde4" stroke-width="1.1"/>
<text x="1121.9" y="516.3" font-size="25" textLength="49" lengthAdjust="spacingAndGlyphs">Sale</text>
<text x="1078.4" y="547" font-size="27" textLength="136.6" lengthAdjust="spacingAndGlyphs">Attribution</text>
<text x="1089" y="598.7" font-size="23.5" textLength="116.2" lengthAdjust="spacingAndGlyphs">Conversion</text>
<text x="1088.3" y="626.2" font-size="23.5" textLength="118" lengthAdjust="spacingAndGlyphs">Attribution</text>
<rect x="0" y="0" width="1344" height="768" filter="url(#paper)" fill="#000"/>
</svg>
</div></body></html>
